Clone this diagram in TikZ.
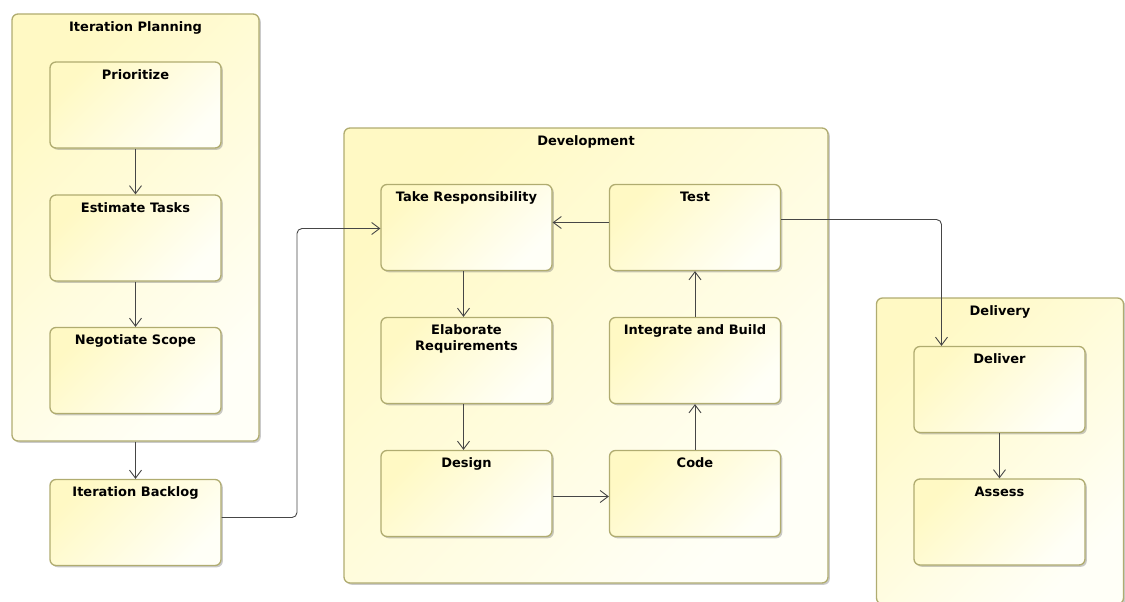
\documentclass[tikz,border=0pt]{standalone}
\usepackage{fontspec}
\setmainfont{DejaVu Sans}
\usetikzlibrary{arrows.meta,positioning,shadows}
\definecolor{boxfill}{RGB}{255,249,196}
\definecolor{boxfade}{RGB}{255,255,247}
\definecolor{boxline}{RGB}{176,172,112}
\definecolor{flowline}{RGB}{70,70,70}

\begin{document}
\begin{tikzpicture}[x=1pt, y=-1pt,
   box/.style={rectangle, rounded corners=6pt, draw=boxline, line width=1.3pt,
      left color=boxfill, right color=boxfade, shading angle=45,
      drop shadow={shadow xshift=1.8pt, shadow yshift=-1.8pt, opacity=0.35, fill=black!60}},
   state/.style={box, minimum width=171pt, minimum height=86pt},
   title/.style={anchor=north, yshift=-7pt, font=\bfseries\fontsize{13}{16}\selectfont, align=center, inner sep=1pt},
   flow/.style={draw=flowline, line width=0.9pt, -{Straight Barb[length=8pt,width=12pt,line width=0.9pt]}}]
   \clip (0,0) rectangle (1125,602);
   \node (plan) at (135.5,227.5) [box, minimum width=247pt, minimum height=427pt, label={[title]north:Iteration Planning}] {};
   \node (dev) at (586,355.5) [box, minimum width=484pt, minimum height=455pt, label={[title]north:Development}] {};
   \node (delivery) at (1000,451) [box, minimum width=247pt, minimum height=306pt, label={[title]north:Delivery}] {};
   \node (prio) at (135.5,105) [state, label={[title]north:Prioritize}] {};
   \node (estimate) at (135.5,238) [state, label={[title]north:Estimate Tasks}] {};
   \node (scope) at (135.5,370.5) [state, label={[title]north:Negotiate Scope}] {};
   \node (backlog) at (135.5,522.5) [state, label={[title]north:Iteration Backlog}] {};
   \node (take) at (466.5,227.5) [state, label={[title]north:Take Responsibility}] {};
   \node (test) at (695,227.5) [state, label={[title]north:Test}] {};
   \node (elab) at (466.5,360.5) [state, label={[title]north:Elaborate\\Requirements}] {};
   \node (integ) at (695,360.5) [state, label={[title]north:Integrate and Build}] {};
   \node (design) at (466.5,493.5) [state, label={[title]north:Design}] {};
   \node (code) at (695,493.5) [state, label={[title]north:Code}] {};
   \node (deliver) at (999.5,389.5) [state, label={[title]north:Deliver}] {};
   \node (assess) at (999.5,522) [state, label={[title]north:Assess}] {};
   \coordinate (bend) at (297,0);
   \draw[flow] (prio) -- (estimate);
   \draw[flow] (estimate) -- (scope);
   \draw[flow] (plan) -- (backlog);
   \draw[flow, rounded corners=5pt] ([yshift=5pt]backlog.east) -- ([yshift=5pt]backlog.east -| bend) -- ([yshift=-1pt]take.west -| bend) -- ([yshift=-1pt]take.west);
   \draw[flow] ([yshift=5pt]test.west) -- ([yshift=5pt]take.east);
   \draw[flow] ([xshift=-3pt]take.south) -- ([xshift=-3pt]elab.north);
   \draw[flow] ([xshift=-3pt]elab.south) -- ([xshift=-3pt]design.north);
   \draw[flow] ([yshift=-3pt]design.east) -- ([yshift=-3pt]code.west);
   \draw[flow] (code) -- (integ);
   \draw[flow] (integ) -- (test);
   \draw[flow, rounded corners=5pt] ([yshift=8pt]test.east) -| ([xshift=-58pt]deliver.north);
   \draw[flow] (deliver) -- (assess);
\end{tikzpicture}
\end{document}
